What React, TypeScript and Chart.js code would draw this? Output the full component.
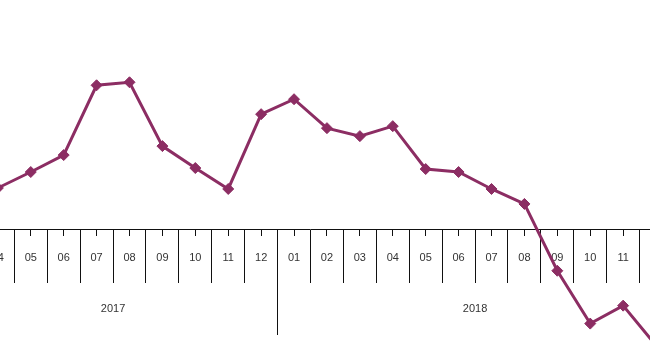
import React, { useEffect, useRef } from 'react';
import { Chart, registerables } from 'chart.js';

Chart.register(...registerables);

const months = ['03', '04', '05', '06', '07', '08', '09', '10', '11', '12', '01', '02', '03', '04', '05', '06', '07', '08', '09', '10', '11', '12'];
const years = ['2017', '2018'];
const monthsPerYear = [10, 12];
const values = [3.0, 4.2, 5.8, 7.5, 14.5, 14.8, 8.4, 6.2, 4.1, 11.6, 13.1, 10.2, 9.4, 10.4, 6.1, 5.8, 4.1, 2.6, -4.1, -9.4, -7.6, -11.6];

const LINE = '#8C2D63';

const yearPlugin = {
  id: 'yearGroups',
  beforeDatasetsDraw(chart: any) {
    const x = chart.scales.x;
    const y = chart.scales.y;
    const ctx = chart.ctx;
    const axisY = Math.round(y.getPixelForValue(0));
    const half = (x.getPixelForValue(1) - x.getPixelForValue(0)) / 2;
    ctx.save();
    ctx.font = '11px Arial, "Liberation Sans", sans-serif';
    ctx.fillStyle = '#333';
    ctx.textAlign = 'center';
    ctx.textBaseline = 'middle';
    ctx.strokeStyle = '#111';
    ctx.lineWidth = 1;
    let start = 0;
    years.forEach((yr, k) => {
      const end = start + monthsPerYear[k] - 1;
      const left = x.getPixelForValue(start) - half;
      const right = x.getPixelForValue(end) + half;
      ctx.fillText(yr, (left + right) / 2, axisY + 79);
      [left, right].forEach((px) => {
        const lx = Math.round(px - 0.5) + 0.5;
        ctx.beginPath();
        ctx.moveTo(lx, axisY);
        ctx.lineTo(lx, axisY + 105);
        ctx.stroke();
      });
      start = end + 1;
    });
    ctx.restore();
  },
};

export default function App() {
  const ref = useRef<HTMLCanvasElement | null>(null);
  useEffect(() => {
    if (!ref.current) return;
    const chart = new Chart(ref.current, {
      type: 'line',
      data: {
        labels: months,
        datasets: [
          {
            data: values,
            borderColor: LINE,
            backgroundColor: LINE,
            borderWidth: 3,
            pointStyle: 'rectRot',
            pointRadius: 5.5,
            pointBackgroundColor: LINE,
            pointBorderColor: LINE,
            pointBorderWidth: 1,
            tension: 0,
            clip: false as any,
          },
        ],
      },
      options: {
        animation: false,
        responsive: true,
        maintainAspectRatio: false,
        layout: { padding: 0 },
        plugins: { legend: { display: false }, tooltip: { enabled: false } },
        scales: {
          x: {
            type: 'category',
            offset: true,
            position: { y: 0 } as any,
            grid: { offset: true, drawOnChartArea: false, tickLength: 53, color: '#111', lineWidth: 1 },
            border: { display: true, color: '#111', width: 1 },
            ticks: {
              padding: -31,
              autoSkip: false,
              maxRotation: 0,
              color: '#333',
              font: { family: 'Arial, "Liberation Sans", sans-serif', size: 11 },
            },
          },
          x2: {
            type: 'category',
            labels: months,
            offset: true,
            position: { y: 0 } as any,
            grid: { offset: false, drawOnChartArea: false, tickLength: 6, color: '#111', lineWidth: 1 },
            border: { display: false },
            ticks: { display: false, autoSkip: false },
          },
          y: {
            display: false,
            min: -13.1,
            max: 22.9,
          },
        },
      },
      plugins: [yearPlugin],
    });
    return () => chart.destroy();
  }, []);
  return (
    <div style={{ position: 'fixed', left: 0, top: 0, width: 650, height: 360, overflow: 'hidden', background: '#fff' }}>
      <div style={{ position: 'absolute', left: -58, top: -5, width: 737, height: 372 }}>
        <canvas ref={ref} />
      </div>
    </div>
  );
}
